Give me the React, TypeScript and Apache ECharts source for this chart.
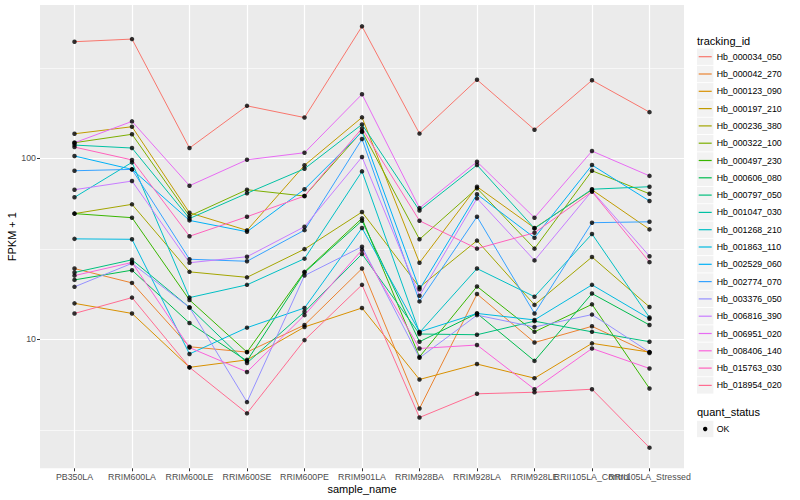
import React, { useEffect, useRef } from "react";
import * as echarts from "echarts";

const categories = [
  "PB350LA", "RRIM600LA", "RRIM600LE", "RRIM600SE", "RRIM600PE", "RRIM901LA",
  "RRIM928BA", "RRIM928LA", "RRIM928LE", "RRII105LA_Control", "RRII105LA_Stressed",
];

const trackingIds = [
  "Hb_000034_050", "Hb_000042_270", "Hb_000123_090", "Hb_000197_210", "Hb_000236_380",
  "Hb_000322_100", "Hb_000497_230", "Hb_000606_080", "Hb_000797_050", "Hb_001047_030",
  "Hb_001268_210", "Hb_001863_110", "Hb_002529_060", "Hb_002774_070", "Hb_003376_050",
  "Hb_006816_390", "Hb_006951_020", "Hb_008406_140", "Hb_015763_030", "Hb_018954_020",
];

const colors = [
  "#F8766D", "#EA8331", "#D89000", "#C09B00", "#A3A500", "#7CAE00", "#39B600", "#00BB4E",
  "#00BF7D", "#00C1A3", "#00BFC4", "#00BAE0", "#00B0F6", "#35A2FF", "#9590FF", "#C77CFF",
  "#E76BF3", "#FA62DB", "#FF62BC", "#FF6C91",
];

// FPKM + 1 per sample, in category order
const hb000034_050 = [441, 456, 114, 195, 168, 536, 137, 272, 144, 270, 180];
const hb000042_270 = [24.6, 20.5, 9.1, 8.5, 12.0, 24.6, 4.15, 17.8, 9.6, 11.8, 8.4];
const hb000123_090 = [15.8, 13.9, 7.0, 7.7, 11.7, 14.9, 6.0, 7.3, 6.1, 9.5, 8.5];
const hb000197_210 = [136.7, 149.5, 50, 40.0, 91.5, 168.4, 26.5, 69.7, 41.2, 67, 40.5];
const hb000236_380 = [49.5, 55.7, 23.6, 22.0, 31.5, 50.5, 19.4, 35.1, 15.5, 28.5, 15.1];
const hb000322_100 = [122, 135.8, 48, 67.1, 61.9, 141, 35.7, 68.3, 31.7, 85.4, 63.7];
const hb000497_230 = [49.5, 47, 16.5, 8.5, 23.6, 46.6, 8.0, 19.6, 11.0, 15.6, 5.35];
const hb000606_080 = [21.3, 24.1, 12.3, 7.6, 23.4, 45.2, 9.7, 13.9, 7.6, 17.9, 12.0];
const hb000797_050 = [23.4, 27.5, 15.0, 7.4, 14.2, 29.6, 10.7, 10.6, 12.6, 11.0, 9.7];
const hb001047_030 = [118.4, 114, 46.5, 64.1, 87.6, 154, 51.5, 91.8, 41.0, 67.5, 69.7];
const hb001268_210 = [60.9, 95, 17.0, 20.0, 27.9, 84.7, 10.9, 24.6, 17.2, 38.2, 13.2];
const hb001863_110 = [35.9, 35.7, 8.3, 11.6, 14.9, 41.2, 11.0, 13.9, 12.8, 20.0, 13.0];
const hb002529_060 = [103, 86.9, 45.4, 39.3, 67.5, 140, 18.9, 63.3, 36.4, 91.8, 58.1];
const hb002774_070 = [85.4, 86.9, 27.7, 27.0, 40.1, 127.8, 16.2, 47.6, 13.9, 44.1, 44.6];
const hb003376_050 = [19.5, 26.3, 15.0, 4.5, 22.5, 32.5, 7.9, 13.6, 11.7, 13.7, 8.5];
const hb006816_390 = [67.1, 74.9, 26.5, 28.6, 41.9, 101.7, 17.4, 60.1, 27.3, 66, 28.8];
const hb006951_020 = [121.9, 160, 70.6, 98.2, 107.4, 226, 53.1, 95.8, 47, 109.7, 80];
const hb008406_140 = [22.5, 26.6, 9.0, 6.6, 13.6, 31.2, 8.9, 9.3, 5.3, 8.9, 6.9];
const hb015763_030 = [115.4, 98, 37.1, 47.6, 61.9, 146.5, 45.2, 31.7, 38.8, 65.4, 26.7];
const hb018954_020 = [13.9, 17.0, 7.0, 3.9, 9.9, 20.0, 3.7, 5.0, 5.1, 5.3, 2.52];

const seriesValues = [
  hb000034_050, hb000042_270, hb000123_090, hb000197_210, hb000236_380,
  hb000322_100, hb000497_230, hb000606_080, hb000797_050, hb001047_030,
  hb001268_210, hb001863_110, hb002529_060, hb002774_070, hb003376_050,
  hb006816_390, hb006951_020, hb008406_140, hb015763_030, hb018954_020,
];

const majorTicks = [10, 100];
const minorTicks = [3.1623, 31.623, 316.23];
const quantStatus = ["OK"];

const FONT = "'Liberation Sans', Arial, Helvetica, sans-serif";
const Y_MIN = 1.938;
const Y_MAX = 703.5;

export default function App() {
  const ref = useRef<HTMLDivElement>(null);

  useEffect(() => {
    document.body.style.margin = "0";
    if (!ref.current) return;
    const chart = echarts.init(ref.current, undefined, { renderer: "svg" });

    const panel = { left: 40, top: 5, width: 644, height: 463.3 };
    const unit = panel.width / 11.2;
    const inner = { left: panel.left + 0.6 * unit, top: panel.top, width: 10 * unit, height: panel.height };

    const lineSeries = seriesValues.map((vals, i) => ({
      type: "line",
      name: trackingIds[i],
      xAxisIndex: 1,
      yAxisIndex: 2,
      data: vals,
      symbol: "none",
      lineStyle: { color: colors[i], width: 1 },
      itemStyle: { color: colors[i] },
      z: 3,
      silent: true,
    }));
    const pointSeries = seriesValues.map((vals, i) => ({
      type: "scatter",
      name: trackingIds[i] + "_pts",
      xAxisIndex: 1,
      yAxisIndex: 2,
      data: vals,
      symbol: "circle",
      symbolSize: 4.5,
      itemStyle: { color: "#000000" },
      z: 4,
      silent: true,
    }));

    const legendX = 697;
    const legendTop = 56.7;
    const step = 17.3;
    const legendGraphics: any[] = [
      {
        type: "text",
        x: legendX,
        y: 40.7,
        style: { text: "tracking_id", font: `11px ${FONT}`, fill: "#000000", textVerticalAlign: "middle" },
      },
    ];
    trackingIds.forEach((id, i) => {
      const cy = legendTop + i * step;
      legendGraphics.push({
        type: "rect",
        shape: { x: legendX, y: cy - 8.2, width: 16.4, height: 16.4 },
        style: { fill: "#F2F2F2" },
      });
      legendGraphics.push({
        type: "line",
        shape: { x1: legendX + 1.7, y1: cy, x2: legendX + 14.7, y2: cy },
        style: { stroke: colors[i], lineWidth: 1.2 },
      });
      legendGraphics.push({
        type: "text",
        x: 716.7,
        y: cy,
        style: { text: id, font: `8.8px ${FONT}`, fill: "#000000", textVerticalAlign: "middle" },
      });
    });
    legendGraphics.push({
      type: "text",
      x: legendX,
      y: 412.3,
      style: { text: "quant_status", font: `11px ${FONT}`, fill: "#000000", textVerticalAlign: "middle" },
    });
    quantStatus.forEach((q, i) => {
      const cy = 429 + i * step;
      legendGraphics.push({
        type: "rect",
        shape: { x: legendX, y: cy - 8.2, width: 16.4, height: 16.4 },
        style: { fill: "#F2F2F2" },
      });
      legendGraphics.push({
        type: "circle",
        shape: { cx: legendX + 8.2, cy, r: 2.2 },
        style: { fill: "#000000" },
      });
      legendGraphics.push({
        type: "text",
        x: 716.7,
        y: cy,
        style: { text: q, font: `8.8px ${FONT}`, fill: "#000000", textVerticalAlign: "middle" },
      });
    });
    legendGraphics.push({
      type: "text",
      x: panel.left + panel.width / 2,
      y: 488.7,
      style: { text: "sample_name", font: `11px ${FONT}`, fill: "#000000", textAlign: "center", textVerticalAlign: "middle" },
    });
    legendGraphics.push({
      type: "text",
      x: 12,
      y: panel.top + panel.height / 2,
      rotation: Math.PI / 2,
      style: { text: "FPKM + 1", font: `11px ${FONT}`, fill: "#000000", textAlign: "center", textVerticalAlign: "middle" },
    });

    chart.setOption({
      animation: false,
      backgroundColor: "#FFFFFF",
      textStyle: { fontFamily: FONT },
      grid: [
        { ...panel, show: true, backgroundColor: "#EBEBEB", borderWidth: 0, containLabel: false },
        { ...inner, show: false, containLabel: false },
      ],
      xAxis: [
        { type: "value", gridIndex: 0, min: 0, max: 1, show: false },
        {
          type: "category",
          gridIndex: 1,
          data: categories,
          boundaryGap: false,
          axisLine: { show: false },
          axisTick: { show: true, length: 3, interval: 0, lineStyle: { color: "#333333", width: 1 } },
          axisLabel: { interval: 0, color: "#4D4D4D", fontSize: 8.8, margin: 4, fontFamily: FONT },
          splitLine: { show: true, interval: 0, lineStyle: { color: "#FFFFFF", width: 1.2 } },
        },
      ],
      yAxis: [
        {
          type: "log",
          gridIndex: 0,
          min: Y_MIN,
          max: Y_MAX,
          axisLine: { show: false },
          axisTick: { show: true, length: 3, customValues: majorTicks, lineStyle: { color: "#333333", width: 1 } },
          axisLabel: {
            customValues: majorTicks,
            color: "#4D4D4D",
            fontSize: 8.8,
            margin: 4,
            fontFamily: FONT,
            formatter: (v: number) => String(Math.round(v)),
          },
          splitLine: { show: true, lineStyle: { color: "#FFFFFF", width: 1.2 } },
        },
        {
          type: "log",
          gridIndex: 0,
          min: Y_MIN,
          max: Y_MAX,
          axisLine: { show: false },
          axisTick: { show: false, customValues: minorTicks },
          axisLabel: { show: false, customValues: minorTicks },
          splitLine: { show: true, lineStyle: { color: "#FFFFFF", width: 0.6 } },
        },
        {
          type: "log",
          gridIndex: 1,
          min: Y_MIN,
          max: Y_MAX,
          show: false,
          splitLine: { show: false },
        },
      ],
      series: [...lineSeries, ...pointSeries],
      graphic: legendGraphics,
    });

    return () => chart.dispose();
  }, []);

  return <div ref={ref} style={{ width: 800, height: 500 }} />;
}
